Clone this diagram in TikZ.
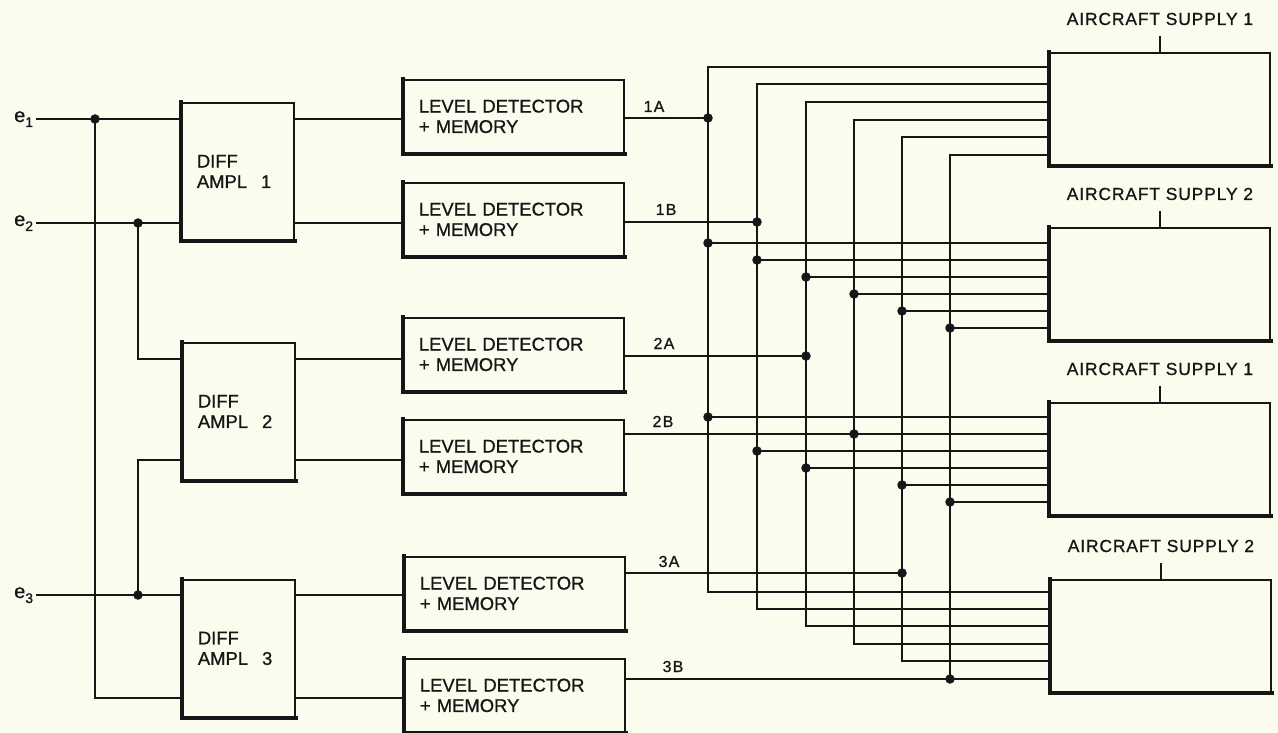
\documentclass[tikz,border=0pt]{standalone}
\usepackage{fontspec}
\setmainfont{Liberation Sans}[FakeBold=0.8]
\definecolor{paper}{RGB}{251,251,238}
\definecolor{ink}{RGB}{22,22,22}
\begin{document}
\begin{tikzpicture}[x=1bp,y=-1bp,line width=1.8bp,color=ink,
  box/.style={draw,line width=1.8bp,fill=paper,anchor=north west,inner sep=0pt,inner xsep=15bp,align=left,font=\fontsize{18.5}{20.5}\selectfont},
  ldbox/.style={box,minimum width=220bp,minimum height=73bp,text width=190bp},
  dabox/.style={box,minimum width=112bp,minimum height=137bp,text width=82bp},
  supbox/.style={box,minimum width=220bp,minimum height=112bp},
  heavy/.style={line width=4.5bp,line cap=rect},
  dot/.style={circle,fill=ink,inner sep=0pt,minimum size=9.5bp},
  lbl/.style={font=\fontsize{16}{17}\selectfont\addfontfeature{LetterSpace=8},anchor=base},
  ttl/.style={font=\fontsize{17.5}{18}\selectfont\addfontfeature{LetterSpace=5},anchor=base},
  elbl/.style={font=\fontsize{20}{20}\selectfont,anchor=base west}]
\fill[paper] (0,0) rectangle (1278,733);
\useasboundingbox (0,0) rectangle (1278,733);

% differential amplifiers
\node[dabox] (da1) at (181,102) {DIFF\\AMPL\hspace{14bp}1};
\node[dabox] (da2) at (182,342) {DIFF\\AMPL\hspace{14bp}2};
\node[dabox] (da3) at (182,579) {DIFF\\AMPL\hspace{14bp}3};

% level detectors
\node[ldbox] (ld1a) at (403,79)  {LEVEL DETECTOR\\+ MEMORY};
\node[ldbox] (ld1b) at (403,182) {LEVEL DETECTOR\\+ MEMORY};
\node[ldbox] (ld2a) at (403,317) {LEVEL DETECTOR\\+ MEMORY};
\node[ldbox] (ld2b) at (403,419) {LEVEL DETECTOR\\+ MEMORY};
\node[ldbox] (ld3a) at (404,556) {LEVEL DETECTOR\\+ MEMORY};
\node[ldbox] (ld3b) at (404,658) {LEVEL DETECTOR\\+ MEMORY};

% aircraft supplies
\node[supbox] (s1) at (1049,52)  {};
\node[supbox] (s2) at (1049,227) {};
\node[supbox] (s3) at (1049,402) {};
\node[supbox] (s4) at (1050,579) {};

\foreach \n in {da1,da2,da3,ld1a,ld1b,ld2a,ld2b,ld3a,ld3b,s1,s2,s3,s4}
  \draw[heavy] (\n.north west) -- (\n.south west) -- (\n.south east);

% supply titles
\foreach \s/\t in {s1/AIRCRAFT SUPPLY 1,s2/AIRCRAFT SUPPLY 2,s3/AIRCRAFT SUPPLY 1,s4/AIRCRAFT SUPPLY 2}{
  \coordinate (\s tick) at ([yshift=16bp]\s.north);
  \node[ttl] (\s title) at ([yshift=27bp]\s.north) {\t};
  \draw (\s.north) -- (\s tick);
}

% inputs
\coordinate (in1) at (36,119);
\coordinate (in2) at (36,223);
\coordinate (in3) at (36,595);
\node[elbl] (e1) at (10,122) {e\raisebox{-5bp}{\fontsize{14}{14}\selectfont 1}};
\node[elbl] (e2) at (10,226) {e\raisebox{-5bp}{\fontsize{14}{14}\selectfont 2}};
\node[elbl] (e3) at (10,598) {e\raisebox{-5bp}{\fontsize{14}{14}\selectfont 3}};
\coordinate (y2a) at (0,359);
\coordinate (y2b) at (0,460);
\coordinate (y3b) at (0,698);
\coordinate (j1) at (95,119);
\coordinate (j2) at (138,223);
\coordinate (j3) at (138,595);

\draw (in1) -- (da1.west |- in1);
\draw (in2) -- (da1.west |- in2);
\draw (in3) -- (da3.west |- in3);
\draw (j1) -- (j1 |- y3b) -- (da3.west |- y3b);
\draw (j2) -- (j2 |- y2a) -- (da2.west |- y2a);
\draw (j3) -- (j3 |- y2b) -- (da2.west |- y2b);
\foreach \j in {j1,j2,j3} \node[dot] at (\j) {};

% amplifier to detector
\draw (da1.east |- in1) -- (ld1a.west |- in1);
\draw (da1.east |- in2) -- (ld1b.west |- in2);
\draw (da2.east |- y2a) -- (ld2a.west |- y2a);
\draw (da2.east |- y2b) -- (ld2b.west |- y2b);
\draw (da3.east |- in3) -- (ld3a.west |- in3);
\draw (da3.east |- y3b) -- (ld3b.west |- y3b);

% bus verticals: top bend into supply 1, bottom bend into supply 2 (lower)
\foreach \i/\x/\yt/\yb in {1/708/67/592,2/757/84/609,3/806/102/626,4/854/120/644,5/902/137/661,6/950/155/679}{
  \coordinate (t\i) at (\x,\yt);
  \coordinate (b\i) at (\x,\yb);
  \draw (s1.west |- t\i) -- (t\i) -- (b\i) -- (s4.west |- b\i);
}

% taps into supply 2 (upper)
\foreach \i/\x/\y in {1/708/243,2/757/260,3/806/277,4/854/294,5/902/311,6/950/328}{
  \coordinate (p\i) at (\x,\y);
  \draw (p\i) -- (s2.west |- p\i);
  \node[dot] at (p\i) {};
}
% taps into supply 1 (lower)
\foreach \i/\x/\y in {1/708/417,2/757/451,3/806/468,5/902/485,6/950/502}{
  \coordinate (q\i) at (\x,\y);
  \draw (q\i) -- (s3.west |- q\i);
  \node[dot] at (q\i) {};
}

% detector outputs
\coordinate (o1a) at (708,118);
\coordinate (o1b) at (757,222);
\coordinate (o2a) at (806,356);
\coordinate (o2b) at (854,434);
\coordinate (o3a) at (902,573);
\draw (ld1a.east |- o1a) -- (o1a);
\draw (ld1b.east |- o1b) -- (o1b);
\draw (ld2a.east |- o2a) -- (o2a);
\draw (ld2b.east |- o2b) -- (s3.west |- o2b);
\draw (ld3a.east |- o3a) -- (o3a);
\draw (ld3b.east |- b6) -- (b6);
\foreach \o in {o1a,o1b,o2a,o2b,o3a,b6} \node[dot] at (\o) {};

\node[lbl] (l1a) at (654,112) {1A};
\node[lbl] (l1b) at (666,215) {1B};
\node[lbl] (l2a) at (664,349) {2A};
\node[lbl] (l2b) at (663,427) {2B};
\node[lbl] (l3a) at (669,567) {3A};
\node[lbl] (l3b) at (673,672) {3B};
\end{tikzpicture}
\end{document}
